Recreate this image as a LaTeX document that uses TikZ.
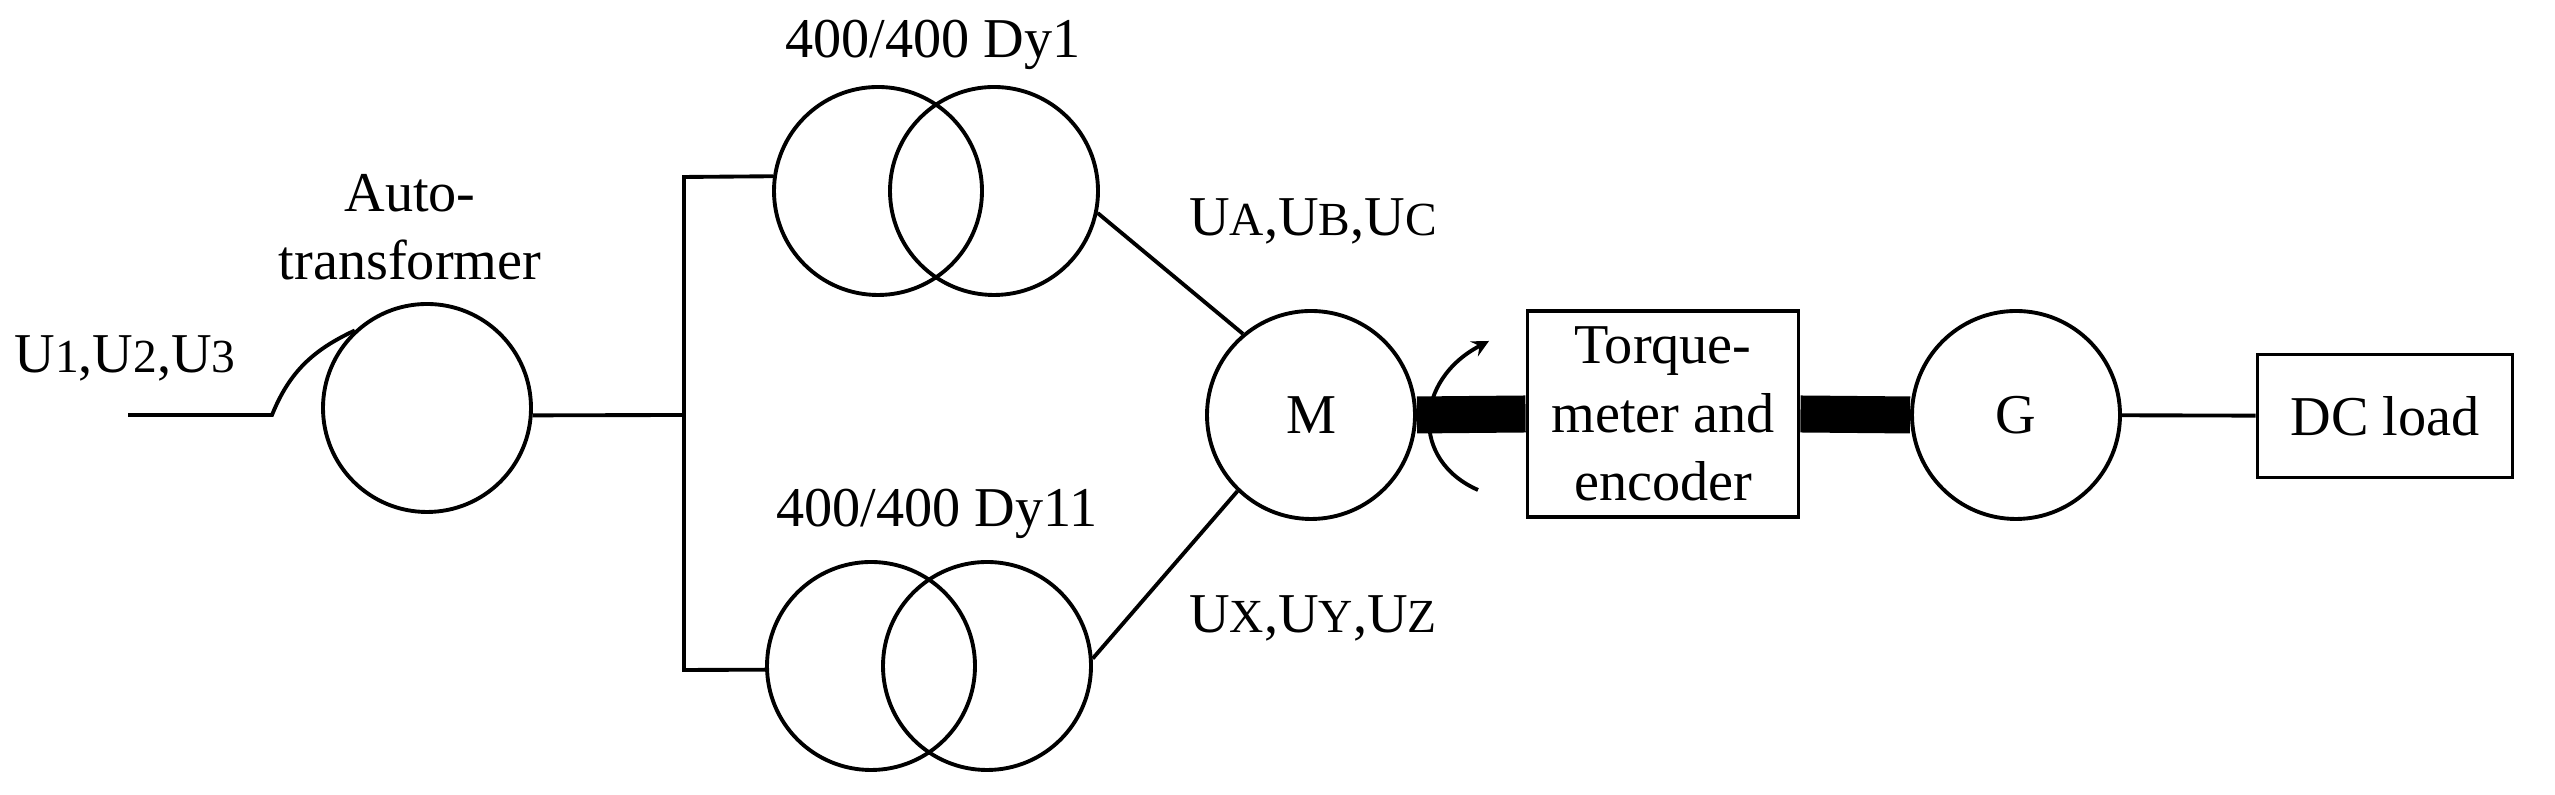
\documentclass[tikz,border=0pt]{standalone}
\usepackage{fontspec}
\setmainfont{Liberation Serif}
\usetikzlibrary{arrows}
\newcommand{\lowU}[1]{U{\fontsize{13.5}{13.5}\selectfont #1}}
\tikzstyle{machine}=[circle, draw, line width=1.1pt, minimum size=2.08cm, inner sep=0pt,
font=\fontsize{16}{19.5}\selectfont]
\tikzstyle{unitbox}=[rectangle, draw, line width=1.1pt, inner sep=0pt,
align=center, font=\fontsize{16}{19.5}\selectfont]
\tikzstyle{label}=[inner sep=0pt, anchor=base, align=center, font=\fontsize{16}{19.5}\selectfont]
\tikzstyle{wire}=[line width=1.1pt]
\tikzstyle{shaft}=[line width=0.37cm]

\begin{document}
\begin{tikzpicture}
\useasboundingbox (0,0) rectangle (25.55,7.95);
\node[machine](autotrans)at (4.27,3.87){};
\node[machine](trafoAl)at (8.78,6.04){};
\node[machine](trafoAr)at (9.94,6.04){};
\node[machine](trafoBl)at (8.71,1.29){};
\node[machine](trafoBr)at (9.87,1.29){};
\node[machine](motor)at (13.11,3.80){M};
\node[unitbox, minimum width=2.71cm, minimum height=2.06cm](torquebox)at (16.63,3.81){Torque-\\meter and\\encoder};
\node[machine](generator)at (20.16,3.80){G};
\node[unitbox, minimum width=2.55cm, minimum height=1.23cm](dcload)at (23.85,3.79){DC load};
\node[label](labelinput)at (1.25,4.22){\lowU{1},\lowU{2},\lowU{3}};
\node[label, anchor=center](labelauto)at (4.10,5.68){Auto-\\transformer};
\node[label](labeldya)at (9.33,7.37){400/400 Dy1};
\node[label](labeldyb)at (9.37,2.68){400/400 Dy11};
\node[label](labelabc)at (13.13,5.59){\lowU{A},\lowU{B},\lowU{C}};
\node[label](labelxyz)at (13.13,1.62){\lowU{X},\lowU{Y},\lowU{Z}};
\coordinate (inputend) at (1.28,3.80);
\coordinate (inputkink) at (2.72,3.80);
\coordinate (bustop) at (6.84,6.18);
\coordinate (busmid) at (6.84,3.80);
\coordinate (busbot) at (6.84,1.25);
\coordinate (rotstart) at (14.78,3.05);
\coordinate (rotend) at (14.89,4.54);
\draw [wire](inputend) -- (inputkink) to[out=68,in=205] (autotrans.133);
\draw [wire](autotrans.-4) -- (busmid);
\draw [wire](trafoAl.172) -- (bustop) -- (busbot) -- (trafoBl.182);
\draw [wire](trafoAr.-12) -- (motor.130);
\draw [wire](trafoBr.4) -- (motor.226);
\draw [wire, -stealth](rotstart) .. controls (14.1,3.35) and (14.15,4.15) .. (rotend);
\draw [shaft](motor.east) -- (torquebox.west);
\draw [shaft](torquebox.east) -- (generator.west);
\draw [wire](generator) -- (dcload);
\end{tikzpicture}
\end{document}
